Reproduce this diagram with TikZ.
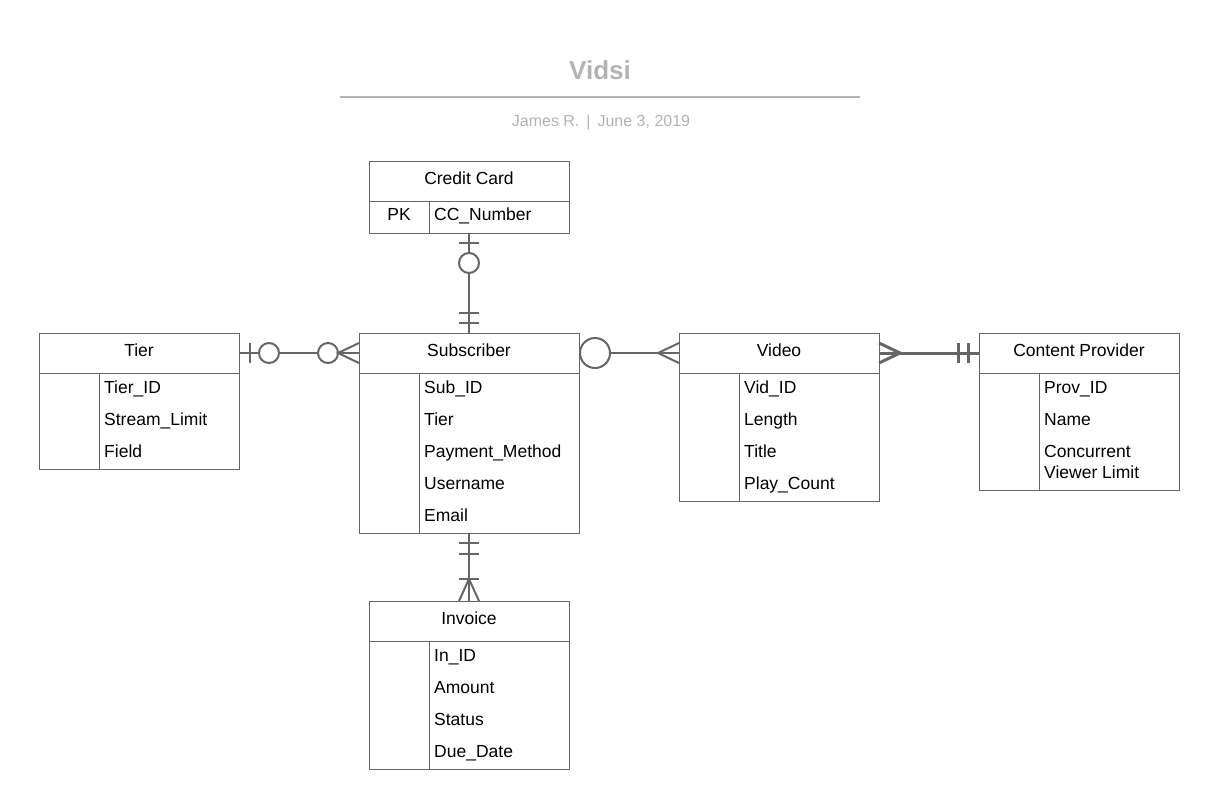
\documentclass[tikz,border=0pt]{standalone}
\usepackage{fontspec}
\setmainfont{Liberation Sans}
\usetikzlibrary{positioning}
\definecolor{linegray}{HTML}{666666}
\definecolor{titlegray}{HTML}{B3B3B3}
\tikzset{
  head/.style = {draw = linegray, line width = 1pt, outer sep = 0pt, inner sep = 0pt,
    minimum width = 200pt, minimum height = 40pt, text height = 12.6pt, text depth = 5pt,
    font = \fontsize{17.5}{21}\selectfont},
  body/.style = {draw = linegray, line width = 1pt, outer sep = 0pt, inner sep = 0pt,
    minimum width = 200pt},
  field/.style = {anchor = base west, inner sep = 0pt, font = \fontsize{17.5}{21}\selectfont},
  divider/.style = {draw = linegray, line width = 1pt},
  rel/.style = {draw = linegray, line width = 2pt},
}

\begin{document}
\begin{tikzpicture}[x = 1pt, y = -1pt]
\useasboundingbox (0,0) rectangle (1209,796);

% title block
\node[font = \bfseries\fontsize{26}{30}\selectfont, text = titlegray] (title) at (600,70) {Vidsi};
\coordinate (ruleL) at (340,97);
\coordinate (ruleR) at (860,97);
\draw[titlegray, line width = 2pt] (ruleL) -- (ruleR);
\node[font = \fontsize{16}{20}\selectfont, text = titlegray] (byline) at (601,122)
  {James R.\hspace{7pt}|\hspace{7pt}June 3, 2019};

% Credit Card
\node[head] (cch) at (469,181) {Credit Card};
\node[body, minimum height = 32pt, below = 0pt of cch] (ccb) {};
\draw[divider] ([xshift = 60pt]ccb.north west) -- ([xshift = 60pt]ccb.south west);
\node[field, anchor = base] (cc0) at ([xshift = 30pt, yshift = -19pt]ccb.north west) {PK};
\node[field] (cc1) at ([xshift = 65pt, yshift = -19pt]ccb.north west) {CC\_Number};

% Tier
\node[head] (tierh) at (139,353) {Tier};
\node[body, minimum height = 96pt, below = 0pt of tierh] (tierb) {};
\draw[divider] ([xshift = 60pt]tierb.north west) -- ([xshift = 60pt]tierb.south west);
\node[field] (tier1) at ([xshift = 65pt, yshift = -20pt]tierb.north west) {Tier\_ID};
\node[field] (tier2) at ([xshift = 65pt, yshift = -52pt]tierb.north west) {Stream\_Limit};
\node[field] (tier3) at ([xshift = 65pt, yshift = -84pt]tierb.north west) {Field};

% Subscriber
\node[head, minimum width = 220pt] (subh) at (469,353) {Subscriber};
\node[body, minimum width = 220pt, minimum height = 160pt, below = 0pt of subh] (subb) {};
\draw[divider] ([xshift = 60pt]subb.north west) -- ([xshift = 60pt]subb.south west);
\node[field] (sub1) at ([xshift = 65pt, yshift = -20pt]subb.north west) {Sub\_ID};
\node[field] (sub2) at ([xshift = 65pt, yshift = -52pt]subb.north west) {Tier};
\node[field] (sub3) at ([xshift = 65pt, yshift = -84pt]subb.north west) {Payment\_Method};
\node[field] (sub4) at ([xshift = 65pt, yshift = -116pt]subb.north west) {Username};
\node[field] (sub5) at ([xshift = 65pt, yshift = -148pt]subb.north west) {Email};

% Video
\node[head] (vidh) at (779,353) {Video};
\node[body, minimum height = 128pt, below = 0pt of vidh] (vidb) {};
\draw[divider] ([xshift = 60pt]vidb.north west) -- ([xshift = 60pt]vidb.south west);
\node[field] (vid1) at ([xshift = 65pt, yshift = -20pt]vidb.north west) {Vid\_ID};
\node[field] (vid2) at ([xshift = 65pt, yshift = -52pt]vidb.north west) {Length};
\node[field] (vid3) at ([xshift = 65pt, yshift = -84pt]vidb.north west) {Title};
\node[field] (vid4) at ([xshift = 65pt, yshift = -116pt]vidb.north west) {Play\_Count};

% Content Provider
\node[head] (cph) at (1079,353) {Content Provider};
\node[body, minimum height = 117pt, below = 0pt of cph] (cpb) {};
\draw[divider] ([xshift = 60pt]cpb.north west) -- ([xshift = 60pt]cpb.south west);
\node[field] (cp1) at ([xshift = 65pt, yshift = -20pt]cpb.north west) {Prov\_ID};
\node[field] (cp2) at ([xshift = 65pt, yshift = -52pt]cpb.north west) {Name};
\node[field] (cp3) at ([xshift = 65pt, yshift = -84pt]cpb.north west) {Concurrent};
\node[field] (cp4) at ([xshift = 65pt, yshift = -105pt]cpb.north west) {Viewer Limit};

% Invoice
\node[head] (invh) at (469,621) {Invoice};
\node[body, minimum height = 128pt, below = 0pt of invh] (invb) {};
\draw[divider] ([xshift = 60pt]invb.north west) -- ([xshift = 60pt]invb.south west);
\node[field] (inv1) at ([xshift = 65pt, yshift = -20pt]invb.north west) {In\_ID};
\node[field] (inv2) at ([xshift = 65pt, yshift = -52pt]invb.north west) {Amount};
\node[field] (inv3) at ([xshift = 65pt, yshift = -84pt]invb.north west) {Status};
\node[field] (inv4) at ([xshift = 65pt, yshift = -116pt]invb.north west) {Due\_Date};

% Tier -- Subscriber
\draw[rel] (tierh.east) -- (subh.west);
\draw[rel] ([xshift = 11pt, yshift = 10pt]tierh.east) -- ([xshift = 11pt, yshift = -10pt]tierh.east);
\draw[rel, fill = white] ([xshift = 30pt]tierh.east) circle (10pt);
\draw[rel, fill = white] ([xshift = -31pt]subh.west) circle (10pt);
\draw[rel] ([yshift = 10pt]subh.west) -- ([xshift = -21pt]subh.west) -- ([yshift = -10pt]subh.west);

% Subscriber -- Video
\draw[rel] (subh.east) -- (vidh.west);
\draw[rel, fill = white] ([xshift = 16pt]subh.east) circle (15pt);
\draw[rel] ([yshift = 10pt]vidh.west) -- ([xshift = -21pt]vidh.west) -- ([yshift = -10pt]vidh.west);

% Video -- Content Provider
\draw[rel, line width = 3pt] (vidh.east) -- (cph.west);
\draw[rel, line width = 3pt] ([yshift = 10pt]vidh.east) -- ([xshift = 21pt]vidh.east) -- ([yshift = -10pt]vidh.east);
\draw[rel, line width = 3pt] ([xshift = -21pt, yshift = 10pt]cph.west) -- ([xshift = -21pt, yshift = -10pt]cph.west);
\draw[rel, line width = 3pt] ([xshift = -11pt, yshift = 10pt]cph.west) -- ([xshift = -11pt, yshift = -10pt]cph.west);

% Credit Card -- Subscriber
\draw[rel] (ccb.south) -- (subh.north);
\draw[rel] ([xshift = -10pt, yshift = -10pt]ccb.south) -- ([xshift = 10pt, yshift = -10pt]ccb.south);
\draw[rel, fill = white] ([yshift = -30pt]ccb.south) circle (10pt);
\draw[rel] ([xshift = -10pt, yshift = 20pt]subh.north) -- ([xshift = 10pt, yshift = 20pt]subh.north);
\draw[rel] ([xshift = -10pt, yshift = 10pt]subh.north) -- ([xshift = 10pt, yshift = 10pt]subh.north);

% Subscriber -- Invoice
\draw[rel] (subb.south) -- (invh.north);
\draw[rel] ([xshift = -10pt, yshift = -10pt]subb.south) -- ([xshift = 10pt, yshift = -10pt]subb.south);
\draw[rel] ([xshift = -10pt, yshift = -21pt]subb.south) -- ([xshift = 10pt, yshift = -21pt]subb.south);
\draw[rel] ([xshift = -10pt, yshift = 22pt]invh.north) -- ([xshift = 10pt, yshift = 22pt]invh.north);
\draw[rel] ([xshift = -10pt]invh.north) -- ([yshift = 22pt]invh.north) -- ([xshift = 10pt]invh.north);
\end{tikzpicture}
\end{document}
